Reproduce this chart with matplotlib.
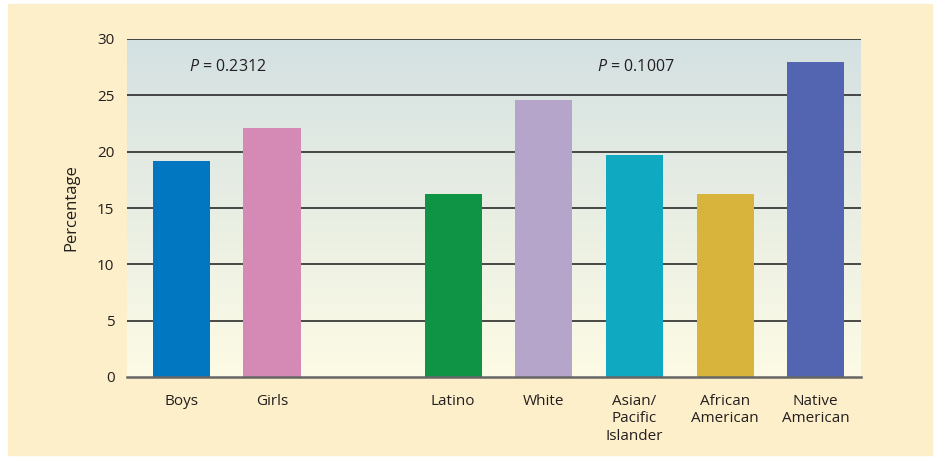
import numpy as np
import matplotlib.pyplot as plt
from matplotlib.patches import Rectangle
from matplotlib.colors import LinearSegmentedColormap

plt.rcParams['font.family'] = ['Open Sans', 'DejaVu Sans']
plt.rcParams['mathtext.fontset'] = 'custom'
plt.rcParams['mathtext.it'] = 'Open Sans:italic'
plt.rcParams['mathtext.rm'] = 'Open Sans'

# data
categories = ["Boys", "Girls", "Latino", "White", "Asian/\nPacific\nIslander",
              "African\nAmerican", "Native\nAmerican"]
values = [19.2, 22.1, 16.2, 24.6, 19.7, 16.2, 28.0]
positions = [0, 1, 3, 4, 5, 6, 7]
colors = ["#0077c0", "#d48ab4", "#0f9345", "#b6a5ca", "#10a9c2", "#d9b43c", "#5365b0"]
p_labels = ["0.2312", "0.1007"]

fig = plt.figure(figsize=(9.4, 4.59), dpi=100, facecolor="white")
fig.patches.append(Rectangle((8 / 940, 4 / 459), 924 / 940, 451 / 459,
                             transform=fig.transFigure, color="#fdefc9", zorder=-10))

ax = fig.add_axes([127 / 940, 1 - 377 / 459, 734 / 940, 338 / 459])
ax.set_facecolor("none")
ax.set_xlim(-0.6, 7.5)
ax.set_ylim(0, 30)

# gradient background
grad = LinearSegmentedColormap.from_list("bg", ["#fdfbe5", "#d4e1e2"])
ax.imshow(np.linspace(0, 1, 256).reshape(-1, 1), cmap=grad, aspect="auto",
          extent=(-0.6, 7.5, 0, 30), origin="lower", zorder=0)

for y in range(5, 31, 5):
    ax.axhline(y, color="#2b2b2b", lw=1.2, zorder=1)

ax.bar(positions, values, width=0.63, color=colors, zorder=2)

for s in ["left", "right", "top"]:
    ax.spines[s].set_visible(False)
ax.spines["bottom"].set_color("#666666")
ax.spines["bottom"].set_linewidth(1.8)
ax.spines["bottom"].set_zorder(3)

ax.set_yticks(range(0, 31, 5))
ax.set_xticks(positions)
ax.set_xticklabels(categories, linespacing=1.25)
ax.tick_params(axis="both", length=0, labelsize=11, labelcolor="#231f20")
ax.tick_params(axis="y", pad=9)
ax.tick_params(axis="x", pad=12)
ax.set_ylabel("Percentage", fontsize=12, color="#231f20", labelpad=13)

ax.text(0.08, 27.5, "$P$ = " + p_labels[0], fontsize=11.5, color="#231f20",
        va="center", ha="left", zorder=4)
ax.text(4.59, 27.5, "$P$ = " + p_labels[1], fontsize=11.5, color="#231f20",
        va="center", ha="left", zorder=4)

fig.savefig("out.png", dpi=100)
